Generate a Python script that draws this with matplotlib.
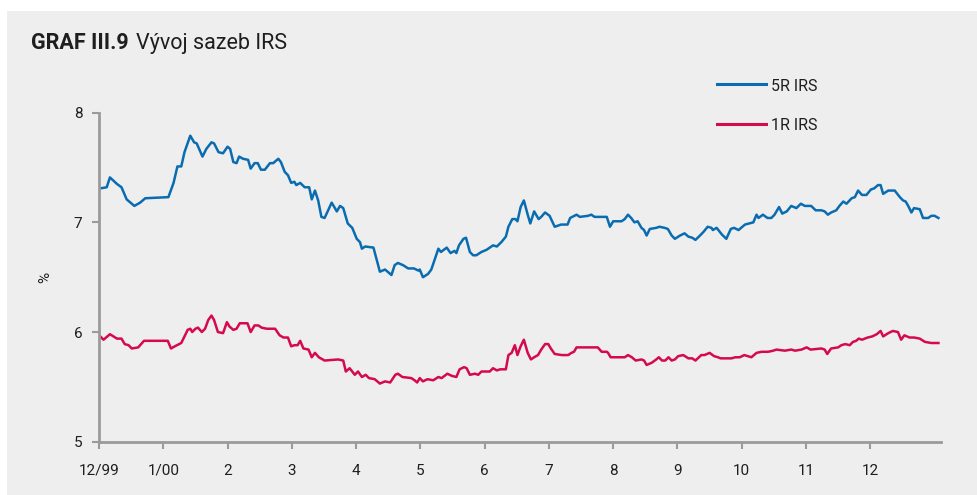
import matplotlib
matplotlib.use("Agg")
import matplotlib.pyplot as plt
from matplotlib.patches import Rectangle
from matplotlib.lines import Line2D

plt.rcParams['font.family'] = ['Liberation Sans Narrow', 'Roboto', 'DejaVu Sans']

# months since 1 Dec 1999 (0 = 12/99, 1 = 1/00, ... 12 = 12/00)
x_5r = [0.02, 0.12, 0.17, 0.28, 0.35, 0.43, 0.55, 0.64, 0.72, 1.08, 1.16, 1.22, 1.28,
        1.33, 1.42, 1.48, 1.52, 1.61, 1.67, 1.75, 1.79, 1.86, 1.93, 2.00, 2.04, 2.09,
        2.14, 2.18, 2.24, 2.32, 2.36, 2.42, 2.47, 2.52, 2.58, 2.66, 2.71, 2.79, 2.83,
        2.89, 2.94, 2.99, 3.04, 3.07, 3.13, 3.20, 3.27, 3.31, 3.36, 3.41, 3.46, 3.51,
        3.62, 3.70, 3.75, 3.80, 3.87, 3.94, 4.01, 4.06, 4.09, 4.14, 4.27, 4.37, 4.45,
        4.55, 4.60, 4.65, 4.73, 4.81, 4.90, 4.97, 4.99, 5.04, 5.12, 5.17, 5.21, 5.28,
        5.32, 5.41, 5.47, 5.53, 5.56, 5.60, 5.67, 5.71, 5.77, 5.82, 5.87, 5.95, 6.03,
        6.13, 6.19, 6.26, 6.33, 6.37, 6.43, 6.48, 6.51, 6.56, 6.61, 6.67, 6.71, 6.77,
        6.84, 6.88, 6.94, 7.01, 7.09, 7.19, 7.29, 7.33, 7.43, 7.48, 7.61, 7.66, 7.71,
        7.90, 7.95, 8.00, 8.13, 8.18, 8.23, 8.28, 8.33, 8.38, 8.44, 8.48, 8.52, 8.57,
        8.67, 8.72, 8.80, 8.85, 8.91, 8.96, 9.04, 9.11, 9.17, 9.23, 9.28, 9.35, 9.40,
        9.47, 9.53, 9.55, 9.61, 9.69, 9.76, 9.83, 9.88, 9.95, 10.01, 10.05, 10.18,
        10.23, 10.26, 10.33, 10.40, 10.46, 10.51, 10.58, 10.63, 10.70, 10.77, 10.85,
        10.92, 10.98, 11.08, 11.15, 11.24, 11.29, 11.34, 11.39, 11.47, 11.52, 11.58,
        11.63, 11.71, 11.76, 11.81, 11.87, 11.94, 12.01, 12.06, 12.12, 12.16, 12.20,
        12.28, 12.38, 12.46, 12.51, 12.55, 12.59, 12.64, 12.68, 12.77, 12.82, 12.90,
        12.95, 13.00, 13.06]
irs_5r = [7.31, 7.32, 7.41, 7.35, 7.32, 7.21, 7.15, 7.18, 7.22, 7.23, 7.36, 7.51, 7.51,
          7.64, 7.79, 7.73, 7.72, 7.60, 7.67, 7.73, 7.72, 7.64, 7.63, 7.69, 7.67, 7.55,
          7.54, 7.60, 7.58, 7.57, 7.49, 7.54, 7.54, 7.48, 7.48, 7.54, 7.54, 7.58, 7.55,
          7.46, 7.43, 7.36, 7.37, 7.34, 7.36, 7.32, 7.32, 7.21, 7.29, 7.20, 7.05, 7.04,
          7.18, 7.10, 7.15, 7.13, 6.99, 6.95, 6.85, 6.82, 6.76, 6.78, 6.77, 6.55, 6.57,
          6.52, 6.61, 6.63, 6.61, 6.58, 6.58, 6.56, 6.57, 6.50, 6.53, 6.57, 6.64, 6.76,
          6.73, 6.77, 6.72, 6.74, 6.72, 6.79, 6.85, 6.86, 6.73, 6.70, 6.70, 6.73, 6.75,
          6.79, 6.78, 6.82, 6.87, 6.96, 7.03, 7.03, 7.01, 7.14, 7.20, 7.07, 6.99, 7.10,
          7.03, 7.05, 7.09, 7.06, 6.96, 6.98, 6.98, 7.04, 7.07, 7.05, 7.06, 7.07, 7.05,
          7.05, 6.96, 7.01, 7.01, 7.03, 7.07, 7.04, 7.00, 7.01, 6.95, 6.93, 6.88, 6.94,
          6.95, 6.96, 6.95, 6.94, 6.88, 6.85, 6.88, 6.90, 6.87, 6.86, 6.84, 6.88, 6.91,
          6.96, 6.95, 6.93, 6.95, 6.89, 6.85, 6.94, 6.95, 6.93, 6.96, 6.98, 7.00,
          7.07, 7.04, 7.07, 7.04, 7.04, 7.07, 7.14, 7.08, 7.10, 7.15, 7.13,
          7.17, 7.15, 7.15, 7.11, 7.11, 7.10, 7.07, 7.09, 7.11, 7.15, 7.19,
          7.17, 7.22, 7.23, 7.29, 7.25, 7.25, 7.30, 7.31, 7.34, 7.34, 7.26,
          7.29, 7.29, 7.23, 7.20, 7.19, 7.15, 7.09, 7.13, 7.12, 7.04, 7.04,
          7.06, 7.06, 7.04]

x_1r = [0.02, 0.07, 0.17, 0.28, 0.35, 0.40, 0.46, 0.51, 0.61, 0.70, 1.07, 1.12, 1.18,
        1.28, 1.38, 1.42, 1.45, 1.50, 1.54, 1.60, 1.65, 1.70, 1.75, 1.79, 1.85, 1.93,
        1.99, 2.03, 2.09, 2.14, 2.19, 2.31, 2.36, 2.42, 2.48, 2.53, 2.61, 2.74, 2.81,
        2.87, 2.94, 2.99, 3.04, 3.09, 3.13, 3.18, 3.26, 3.31, 3.36, 3.42, 3.51, 3.72,
        3.80, 3.84, 3.90, 3.98, 4.03, 4.09, 4.15, 4.20, 4.29, 4.37, 4.45, 4.53, 4.61,
        4.65, 4.72, 4.86, 4.91, 4.95, 4.99, 5.04, 5.11, 5.20, 5.28, 5.33, 5.42, 5.49,
        5.56, 5.61, 5.68, 5.72, 5.77, 5.85, 5.90, 5.95, 6.08, 6.13, 6.19, 6.24, 6.33,
        6.37, 6.42, 6.47, 6.51, 6.56, 6.61, 6.67, 6.72, 6.77, 6.83, 6.88, 6.94, 6.99,
        7.03, 7.09, 7.20, 7.30, 7.35, 7.39, 7.43, 7.76, 7.82, 7.90, 7.92, 7.96, 8.18,
        8.23, 8.29, 8.35, 8.44, 8.48, 8.52, 8.60, 8.67, 8.71, 8.76, 8.81, 8.86, 8.91,
        8.96, 9.01, 9.09, 9.17, 9.23, 9.28, 9.37, 9.42, 9.50, 9.57, 9.63, 9.67, 9.84,
        9.90, 9.97, 10.04, 10.15, 10.23, 10.31, 10.41, 10.49, 10.54, 10.67, 10.77,
        10.83, 10.93, 11.01, 11.07, 11.24, 11.29, 11.33, 11.39, 11.50, 11.55, 11.61,
        11.68, 11.73, 11.78, 11.82, 11.87, 11.96, 12.03, 12.10, 12.16, 12.20, 12.28,
        12.35, 12.43, 12.48, 12.53, 12.61, 12.68, 12.77, 12.85, 12.95, 13.06]
irs_1r = [5.96, 5.93, 5.98, 5.94, 5.94, 5.89, 5.88, 5.85, 5.86, 5.92, 5.92, 5.85, 5.87,
          5.90, 6.02, 6.03, 6.00, 6.03, 6.04, 6.00, 6.03, 6.11, 6.15, 6.11, 6.00, 5.99,
          6.09, 6.05, 6.02, 6.03, 6.08, 6.08, 6.00, 6.06, 6.06, 6.04, 6.03, 6.03, 5.97,
          5.95, 5.95, 5.87, 5.88, 5.88, 5.92, 5.85, 5.84, 5.77, 5.81, 5.77, 5.74, 5.75,
          5.74, 5.64, 5.67, 5.61, 5.64, 5.59, 5.61, 5.58, 5.57, 5.53, 5.55, 5.54, 5.61,
          5.62, 5.59, 5.58, 5.56, 5.54, 5.58, 5.55, 5.57, 5.56, 5.59, 5.58, 5.62, 5.60,
          5.59, 5.66, 5.68, 5.67, 5.61, 5.62, 5.61, 5.64, 5.64, 5.67, 5.65, 5.66, 5.66,
          5.79, 5.81, 5.88, 5.79, 5.87, 5.93, 5.81, 5.75, 5.77, 5.79, 5.84, 5.89, 5.89,
          5.85, 5.80, 5.79, 5.79, 5.81, 5.82, 5.86, 5.86, 5.82, 5.82, 5.81, 5.77, 5.77,
          5.79, 5.77, 5.74, 5.75, 5.74, 5.70, 5.72, 5.75, 5.77, 5.74, 5.74, 5.77, 5.74,
          5.75, 5.78, 5.79, 5.76, 5.76, 5.74, 5.79, 5.79, 5.81, 5.78, 5.77, 5.76, 5.76,
          5.77, 5.77, 5.79, 5.77, 5.81, 5.82, 5.82, 5.83, 5.84, 5.83, 5.84,
          5.83, 5.84, 5.86, 5.84, 5.85, 5.84, 5.80, 5.85, 5.86, 5.88, 5.89,
          5.88, 5.91, 5.92, 5.94, 5.93, 5.95, 5.96, 5.98, 6.01, 5.96, 5.99,
          6.01, 6.00, 5.93, 5.97, 5.95, 5.95, 5.94, 5.91, 5.90, 5.90]

tick_pos = list(range(13))
tick_labels = ['12/99', '1/00', '2', '3', '4', '5', '6', '7', '8', '9', '10', '11', '12']

blue = '#0a6cb0'
red = '#d5094f'
grey = '#9a9a9a'
txt = '#1e1e1e'

W, H = 978, 495
fig = plt.figure(figsize=(W / 100, H / 100), dpi=100, facecolor='white')
# grey panel behind everything
fig.patches.append(Rectangle((7 / W, 0), 1 - 7 / W, 1 - 11 / H, transform=fig.transFigure,
                             facecolor='#eeeeee', edgecolor='none', zorder=-10))

ax = fig.add_axes([99 / W, 1 - 441.7 / H, (941 - 99) / W, (441.7 - 112.7) / H])
ax.set_zorder(5)
ax.set_facecolor('none')
ax.plot(x_5r, irs_5r, color=blue, lw=1.8, solid_joinstyle='round')
ax.plot(x_1r, irs_1r, color=red, lw=1.8, solid_joinstyle='round')

ax.set_xlim(0, 13.1)
ax.set_ylim(5, 8)
ax.set_yticks([5, 6, 7, 8])
ax.set_xticks(tick_pos)
ax.set_xticklabels(tick_labels)
for s in ['top', 'right']:
    ax.spines[s].set_visible(False)
for s in ['left', 'bottom']:
    ax.spines[s].set_color(grey)
    ax.spines[s].set_linewidth(2)
ax.tick_params(axis='y', direction='out', length=5, width=1.5, color=grey,
               labelsize=11, labelcolor=txt, pad=7)
ax.tick_params(axis='x', direction='out', length=5, width=1.5, color=grey,
               labelsize=11, labelcolor=txt, pad=11)

fig.text(45 / W, 1 - 277 / H, '%', rotation=90, ha='center', va='center',
         fontsize=11, color=txt)

# title: bold part + regular part
t1 = fig.text(31 / W, 1 - 43 / H, 'GRAF III.9', fontsize=15.5, fontweight='bold',
              color=txt, va='center', ha='left')
fig.canvas.draw()
bb = t1.get_window_extent()
fig.text((bb.x1 + 7) / W, 1 - 43 / H, 'Vývoj sazeb IRS', fontsize=15.5,
         color=txt, va='center', ha='left')

# legend
for yy, lab, c in [(84.3, '5R IRS', blue), (123.7, '1R IRS', red)]:
    fig.add_artist(Line2D([716.7 / W, 765.7 / W], [1 - yy / H, 1 - yy / H],
                          color=c, lw=2.2, transform=fig.transFigure))
    fig.text(771 / W, 1 - (yy + 2) / H, lab, fontsize=11.5, color=txt,
             va='center', ha='left')

fig.savefig('out.png', dpi=100, facecolor='white')
